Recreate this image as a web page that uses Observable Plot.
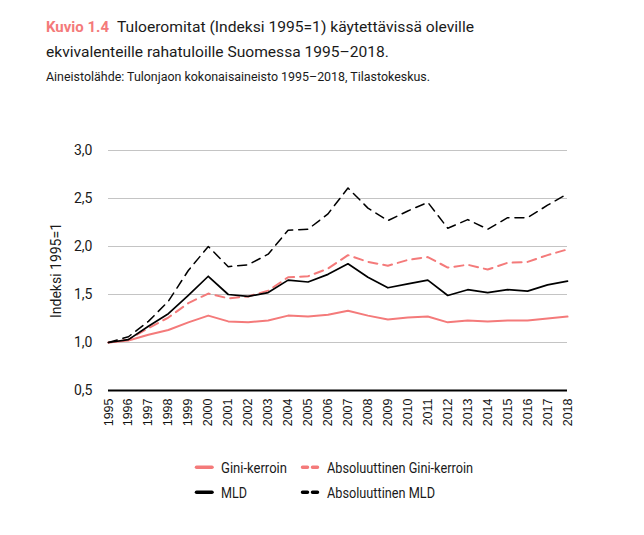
<!DOCTYPE html>
<html>
<head>
<meta charset="utf-8">
<script src="https://cdn.jsdelivr.net/npm/d3@7"></script>
<script src="https://cdn.jsdelivr.net/npm/@observablehq/plot@0.6"></script>
<style>
  html, body { margin: 0; padding: 0; background: #fff; }
  #wrap { position: relative; width: 644px; height: 535px; overflow: hidden; }
  #chart { position: absolute; left: 0; top: 0; }
  #over { position: absolute; left: 0; top: 0; }
</style>
</head>
<body>
<div id="wrap">
  <div id="chart"></div>
  <svg id="over" width="644" height="535" xmlns="http://www.w3.org/2000/svg"></svg>
</div>
<script>
const years = [1995,1996,1997,1998,1999,2000,2001,2002,2003,2004,2005,2006,2007,2008,2009,2010,2011,2012,2013,2014,2015,2016,2017,2018];
const gini   = [1.00,1.02,1.08,1.13,1.21,1.28,1.22,1.21,1.23,1.28,1.27,1.29,1.33,1.28,1.24,1.26,1.27,1.21,1.23,1.22,1.23,1.23,1.25,1.27];
const absGini= [1.00,1.03,1.15,1.26,1.41,1.51,1.46,1.48,1.54,1.68,1.69,1.77,1.91,1.84,1.80,1.86,1.89,1.78,1.81,1.76,1.83,1.84,1.91,1.97];
const mld    = [1.00,1.03,1.17,1.30,1.49,1.69,1.50,1.48,1.52,1.65,1.63,1.71,1.82,1.68,1.57,1.61,1.65,1.49,1.55,1.52,1.55,1.535,1.60,1.64];
const absMld = [1.00,1.06,1.22,1.43,1.75,2.00,1.79,1.81,1.92,2.17,2.18,2.34,2.61,2.40,2.27,2.37,2.46,2.19,2.28,2.18,2.30,2.30,2.43,2.55];
const yTicks = [0.5,1.0,1.5,2.0,2.5,3.0];
const seriesNames = ["Gini-kerroin","Absoluuttinen Gini-kerroin","MLD","Absoluuttinen MLD"];
const figLabel = "Kuvio 1.4";
const titleLine1 = "Tuloeromitat (Indeksi 1995=1) käytettävissä oleville";
const titleLine2 = "ekvivalenteille rahatuloille Suomessa 1995–2018.";
const sourceText = "Aineistolähde: Tulonjaon kokonaisaineisto 1995–2018, Tilastokeskus.";
const yLabel = "Indeksi 1995=1";

const PINK = "#f47a7a";
const INK = "#1a1a1a";
const toRows = (vals) => years.map((y,i) => ({year: y, value: vals[i]}));

const chart = Plot.plot({
  width: 644,
  height: 440,
  marginLeft: 108,
  marginRight: 77,
  marginTop: 150,
  marginBottom: 50,
  style: {fontFamily: "Liberation Sans, Arial, sans-serif", fontSize: "13px", color: "#111", background: "transparent"},
  x: {type: "linear", domain: [1995, 2018]},
  y: {domain: [0.5, 3.0]},
  marks: [
    Plot.gridY(yTicks.filter(d => d > 0.5), {stroke: "#c4c4c4", strokeOpacity: 1, strokeWidth: 1}),
    Plot.ruleY([0.5], {stroke: "#000", strokeWidth: 2}),
    Plot.axisY({ticks: yTicks, tickSize: 0, tickPadding: 16, tickFormat: d => d.toFixed(1).replace(".", ","),
      label: yLabel, labelAnchor: "center", labelArrow: "none", labelOffset: 57,
      fontFamily: "Roboto, sans-serif", fontSize: 14, fill: INK}),
    Plot.axisX({ticks: years, tickFormat: d => String(d), tickSize: 0, tickPadding: 8, tickRotate: -90, label: null, fontSize: 12.5, fill: "#111"}),
    Plot.line(toRows(gini), {x: "year", y: "value", stroke: PINK, strokeWidth: 2}),
    Plot.line(toRows(absGini), {x: "year", y: "value", stroke: PINK, strokeWidth: 2, strokeDasharray: "9,6"}),
    Plot.line(toRows(mld), {x: "year", y: "value", stroke: "#000", strokeWidth: 1.7}),
    Plot.line(toRows(absMld), {x: "year", y: "value", stroke: "#000", strokeWidth: 1.5, strokeDasharray: "9,6"})
  ]
});
document.getElementById("chart").appendChild(chart);
chart.querySelectorAll("[aria-label='y-axis label'] text, [aria-label='y-axis label']").forEach(t => {
  t.setAttribute("font-size", "14"); t.setAttribute("font-family", "Roboto, sans-serif");
});

// Overlay: title, source, legend (text fitted to measured extents)
const NS = "http://www.w3.org/2000/svg";
const over = document.getElementById("over");
function addText(str, x, y, right, size, opts = {}) {
  const t = document.createElementNS(NS, "text");
  t.setAttribute("x", x); t.setAttribute("y", y);
  t.setAttribute("font-family", "Roboto, sans-serif");
  t.setAttribute("font-size", size);
  t.setAttribute("fill", opts.fill || INK);
  if (opts.weight) t.setAttribute("font-weight", opts.weight);
  t.textContent = str;
  over.appendChild(t);
  if (right) {
    t.setAttribute("textLength", right - x);
    t.setAttribute("lengthAdjust", "spacingAndGlyphs");
  }
  return t;
}
addText(figLabel, 46, 31.7, 109, 15.5, {fill: PINK, weight: 700});
addText(titleLine1, 117, 31.7, 474, 15.5);
addText(titleLine2, 46, 56.7, 389, 15.5);
addText(sourceText, 46, 80.5, 430, 12.5);

const items = [
  {name: seriesNames[0], color: PINK, dash: false, sx: 195, tx: 221, y: 467.3, right: 287},
  {name: seriesNames[1], color: PINK, dash: true, sx: 301, tx: 327, y: 467.3, right: 473},
  {name: seriesNames[2], color: "#000", dash: false, sx: 195, tx: 221, y: 492.3, right: 247},
  {name: seriesNames[3], color: "#000", dash: true, sx: 301, tx: 327, y: 492.3, right: 435}
];
items.forEach(it => {
  const l = document.createElementNS(NS, "line");
  l.setAttribute("x1", it.sx + 1.5); l.setAttribute("x2", it.sx + 17);
  l.setAttribute("y1", it.y); l.setAttribute("y2", it.y);
  l.setAttribute("stroke", it.color); l.setAttribute("stroke-width", 3.5); l.setAttribute("stroke-linecap", "round");
  if (it.dash) l.setAttribute("stroke-dasharray", "5,5");
  over.appendChild(l);
  addText(it.name, it.tx, it.y + 5.2, it.right, 14);
});
</script>
</body>
</html>
